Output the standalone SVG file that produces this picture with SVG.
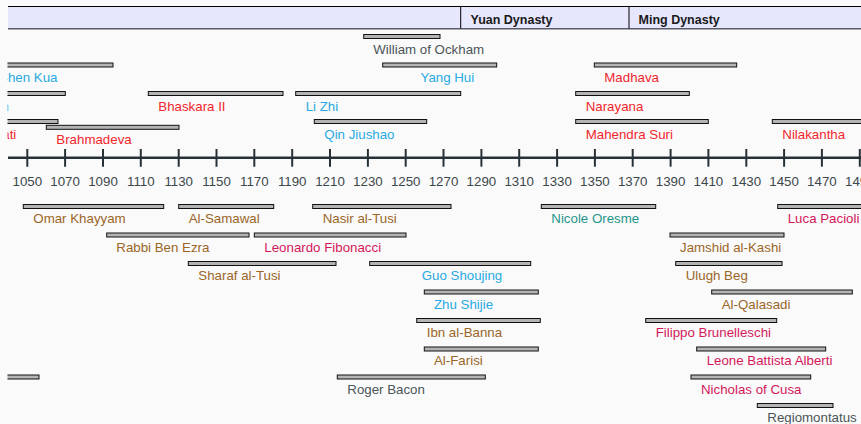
<svg xmlns="http://www.w3.org/2000/svg" width="861" height="424" viewBox="0 0 861 424">
<style>
text{font-family:"Liberation Sans",Arial,sans-serif;font-size:13.3px}
.bar{fill:#b4b4b4;stroke:#111;stroke-width:1}
.yr{font-size:12.1px;fill:#3c474b;text-anchor:middle}
.hd{font-weight:bold;font-size:12.5px;fill:#1a1a1a}
.gy{fill:#4b5558}.cy{fill:#27aae1}.rd{fill:#f2262d}.br{fill:#9a6628}.cr{fill:#d3185a}.tl{fill:#1f968b}
.tick{stroke:#263238;stroke-width:2}
</style>
<defs><clipPath id="clip"><rect x="7.5" y="0" width="854" height="424"/></clipPath></defs>
<rect width="861" height="424" fill="#fafafa"/>
<g clip-path="url(#clip)">
<g id="header">
<rect x="8" y="6.5" width="860" height="22" fill="#e6e6fc"/>
<line x1="8" y1="6.5" x2="861" y2="6.5" stroke="#000" stroke-width="1.2"/>
<line x1="8" y1="28.7" x2="861" y2="28.7" stroke="#5a5a68" stroke-width="1.5"/>
<line x1="460.7" y1="6.5" x2="460.7" y2="28.5" stroke="#000" stroke-width="1"/>
<line x1="629" y1="6.5" x2="629" y2="28.5" stroke="#000" stroke-width="1"/>
<text class="hd" x="470.5" y="24">Yuan Dynasty</text>
<text class="hd" x="638.5" y="24">Ming Dynasty</text>
</g>
<g id="axis">
<line x1="8" y1="157.7" x2="861" y2="157.7" stroke="#263238" stroke-width="2.6"/>
<g class="tick">
<line x1="27.3" y1="149" x2="27.3" y2="166.7"/><line x1="65.1" y1="149" x2="65.1" y2="166.7"/><line x1="103" y1="149" x2="103" y2="166.7"/><line x1="140.8" y1="149" x2="140.8" y2="166.7"/><line x1="178.7" y1="149" x2="178.7" y2="166.7"/><line x1="216.5" y1="149" x2="216.5" y2="166.7"/><line x1="254.3" y1="149" x2="254.3" y2="166.7"/><line x1="292.2" y1="149" x2="292.2" y2="166.7"/><line x1="330" y1="149" x2="330" y2="166.7"/><line x1="367.9" y1="149" x2="367.9" y2="166.7"/><line x1="405.7" y1="149" x2="405.7" y2="166.7"/><line x1="443.5" y1="149" x2="443.5" y2="166.7"/><line x1="481.4" y1="149" x2="481.4" y2="166.7"/><line x1="519.2" y1="149" x2="519.2" y2="166.7"/><line x1="557.1" y1="149" x2="557.1" y2="166.7"/><line x1="594.9" y1="149" x2="594.9" y2="166.7"/><line x1="632.7" y1="149" x2="632.7" y2="166.7"/><line x1="670.6" y1="149" x2="670.6" y2="166.7"/><line x1="708.4" y1="149" x2="708.4" y2="166.7"/><line x1="746.3" y1="149" x2="746.3" y2="166.7"/><line x1="784.1" y1="149" x2="784.1" y2="166.7"/><line x1="821.9" y1="149" x2="821.9" y2="166.7"/><line x1="859.8" y1="149" x2="859.8" y2="166.7"/>
</g>
<g class="yr">
<text x="27.3" y="185.5">1050</text><text x="65.1" y="185.5">1070</text><text x="103" y="185.5">1090</text><text x="140.8" y="185.5">1110</text><text x="178.7" y="185.5">1130</text><text x="216.5" y="185.5">1150</text><text x="254.3" y="185.5">1170</text><text x="292.2" y="185.5">1190</text><text x="330" y="185.5">1210</text><text x="367.9" y="185.5">1230</text><text x="405.7" y="185.5">1250</text><text x="443.5" y="185.5">1270</text><text x="481.4" y="185.5">1290</text><text x="519.2" y="185.5">1310</text><text x="557.1" y="185.5">1330</text><text x="594.9" y="185.5">1350</text><text x="632.7" y="185.5">1370</text><text x="670.6" y="185.5">1390</text><text x="708.4" y="185.5">1410</text><text x="746.3" y="185.5">1430</text><text x="784.1" y="185.5">1450</text><text x="821.9" y="185.5">1470</text><text x="859.8" y="185.5">1490</text>
</g>
</g>
<g id="connectors"></g>
<g id="william-of-ockham"><rect class="bar" x="363.7" y="34.5" width="76.3" height="4"/><text class="gy" x="373.3" y="54">William of Ockham</text></g>
<g id="shen-kua"><rect class="bar" x="-10" y="63" width="123" height="4"/><text class="cy" x="57.5" y="82" text-anchor="end">Shen Kua</text></g>
<g id="yang-hui"><rect class="bar" x="382.7" y="63" width="114" height="4"/><text class="cy" x="420.5" y="82">Yang Hui</text></g>
<g id="madhava"><rect class="bar" x="594.3" y="63" width="142.4" height="4"/><text class="rd" x="604.3" y="82">Madhava</text></g>
<g id="jia-xian"><rect class="bar" x="-50" y="91.5" width="115.3" height="4"/><text class="cy" x="9" y="110.5" text-anchor="end">Jia Xian</text></g>
<g id="bhaskara-ii"><rect class="bar" x="148.3" y="91.5" width="134.7" height="4"/><text class="rd" x="158.3" y="110.5">Bhaskara II</text></g>
<g id="li-zhi"><rect class="bar" x="295.7" y="91.5" width="165" height="4"/><text class="cy" x="305.7" y="110.5">Li Zhi</text></g>
<g id="narayana"><rect class="bar" x="575.7" y="91.5" width="113.6" height="4"/><text class="rd" x="585.7" y="110.5">Narayana</text></g>
<g id="sripati"><rect class="bar" x="-60" y="119.5" width="118" height="4"/><text class="rd" x="16.3" y="138.5" text-anchor="end">Sripati</text></g>
<g id="brahmadeva"><rect class="bar" x="46.3" y="125.3" width="132.7" height="4"/><text class="rd" x="56.3" y="144">Brahmadeva</text></g>
<g id="qin-jiushao"><rect class="bar" x="314.3" y="119.5" width="112.4" height="4"/><text class="cy" x="324.3" y="138.5">Qin Jiushao</text></g>
<g id="mahendra-suri"><rect class="bar" x="575.7" y="119.5" width="132.6" height="4"/><text class="rd" x="585.7" y="138.5">Mahendra Suri</text></g>
<g id="nilakantha"><rect class="bar" x="772.3" y="119.5" width="120" height="4"/><text class="rd" x="782.3" y="138.5">Nilakantha</text></g>
<g id="omar-khayyam"><rect class="bar" x="23.3" y="204.5" width="140.4" height="4"/><text class="br" x="33.3" y="223.3">Omar Khayyam</text></g>
<g id="al-samawal"><rect class="bar" x="178.7" y="204.5" width="95" height="4"/><text class="br" x="188.7" y="223.3">Al-Samawal</text></g>
<g id="nasir-al-tusi"><rect class="bar" x="312.7" y="204.5" width="138.3" height="4"/><text class="br" x="322.7" y="223.3">Nasir al-Tusi</text></g>
<g id="nicole-oresme"><rect class="bar" x="541.3" y="204.5" width="114.4" height="4"/><text class="tl" x="551.3" y="223.3">Nicole Oresme</text></g>
<g id="luca-pacioli"><rect class="bar" x="777.7" y="204.5" width="120" height="4"/><text class="cr" x="787.7" y="223.3">Luca Pacioli</text></g>
<g id="rabbi-ben-ezra"><rect class="bar" x="106.7" y="233" width="142.3" height="4"/><text class="br" x="116.3" y="251.7">Rabbi Ben Ezra</text></g>
<g id="leonardo-fibonacci"><rect class="bar" x="254.3" y="233" width="151.7" height="4"/><text class="cr" x="264.3" y="251.7">Leonardo Fibonacci</text></g>
<g id="jamshid-al-kashi"><rect class="bar" x="670" y="233" width="114" height="4"/><text class="br" x="680" y="251.7">Jamshid al-Kashi</text></g>
<g id="sharaf-al-tusi"><rect class="bar" x="188.3" y="261.5" width="147.7" height="4"/><text class="br" x="198.3" y="280">Sharaf al-Tusi</text></g>
<g id="guo-shoujing"><rect class="bar" x="369.7" y="261.5" width="161" height="4"/><text class="cy" x="421.7" y="280">Guo Shoujing</text></g>
<g id="ulugh-beg"><rect class="bar" x="675.7" y="261.5" width="106.3" height="4"/><text class="br" x="685.7" y="280">Ulugh Beg</text></g>
<g id="zhu-shijie"><rect class="bar" x="424.3" y="290" width="114" height="4"/><text class="cy" x="434" y="308.6">Zhu Shijie</text></g>
<g id="al-qalasadi"><rect class="bar" x="711.7" y="290" width="140.6" height="4"/><text class="br" x="721.7" y="308.6">Al-Qalasadi</text></g>
<g id="ibn-al-banna"><rect class="bar" x="416.7" y="318.5" width="123.6" height="4"/><text class="br" x="426.7" y="336.8">Ibn al-Banna</text></g>
<g id="filippo-brunelleschi"><rect class="bar" x="645.7" y="318.5" width="131" height="4"/><text class="cr" x="655.7" y="336.8">Filippo Brunelleschi</text></g>
<g id="al-farisi"><rect class="bar" x="424.3" y="347" width="114" height="4"/><text class="br" x="434" y="365">Al-Farisi</text></g>
<g id="leone-battista-alberti"><rect class="bar" x="696.7" y="347" width="129" height="4"/><text class="cr" x="706.7" y="365">Leone Battista Alberti</text></g>
<g id="unlabeled-bar"><rect class="bar" x="-20" y="375" width="59" height="4"/></g>
<g id="roger-bacon"><rect class="bar" x="337.3" y="375" width="148" height="4"/><text class="gy" x="347.3" y="393.7">Roger Bacon</text></g>
<g id="nicholas-of-cusa"><rect class="bar" x="691" y="375" width="119.7" height="4"/><text class="cr" x="701" y="393.7">Nicholas of Cusa</text></g>
<g id="regiomontatus"><rect class="bar" x="757.3" y="403.5" width="75.7" height="4"/><text class="gy" x="767.3" y="421.5">Regiomontatus</text></g>
</g>
</svg>
